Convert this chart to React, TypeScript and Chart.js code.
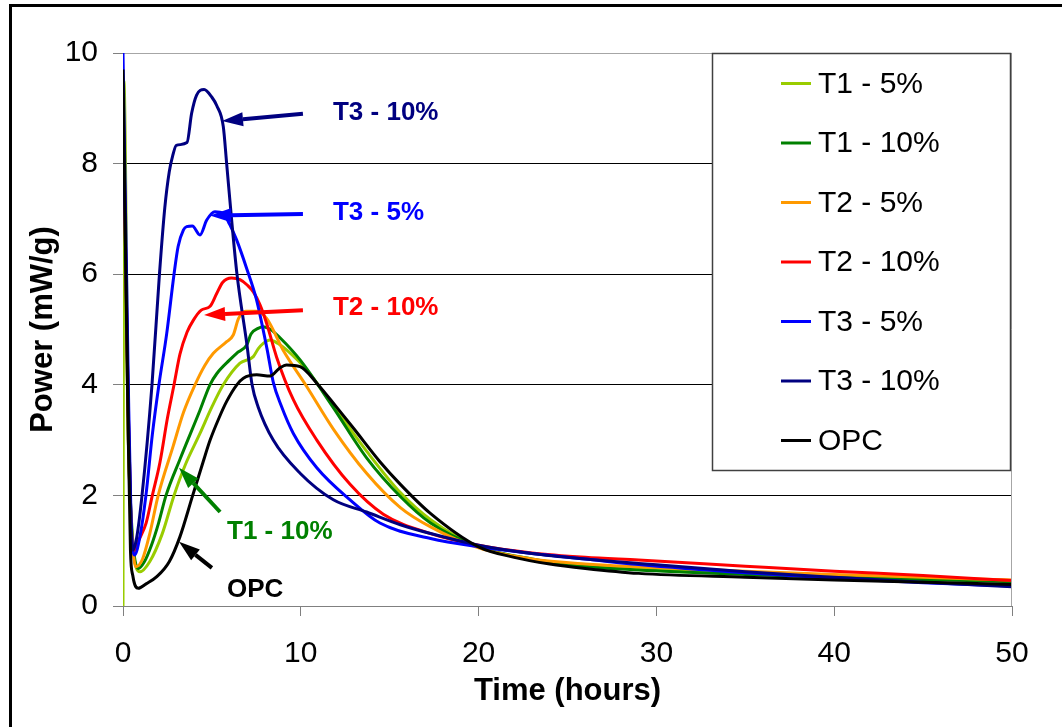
import React, { useEffect, useRef } from "react";
import { Chart, registerables } from "chart.js";

Chart.register(...registerables);

// ---------- data ----------
const seriesNames = ["T1 - 5%", "T1 - 10%", "T2 - 5%", "T2 - 10%", "T3 - 5%", "T3 - 10%", "OPC"];
const seriesColors = ["#99CC00", "#008000", "#FF9900", "#FF0000", "#0000FF", "#000080", "#000000"];

const t1_5_t = [0, 0.05, 0.3, 0.5, 0.96, 1.5, 2.2, 2.87, 3.5, 4.33, 5.0, 5.64, 6.58, 7.33, 7.6, 7.89, 8.27, 8.7, 9.2, 10.33, 11.83, 13.7, 15.6, 17.3, 20, 23, 26, 29, 35, 40, 45, 50];
const t1_5_y = [0, 9.5, 3.2, 1.3, 0.62, 0.8, 1.3, 2.0, 2.55, 3.12, 3.6, 4.0, 4.39, 4.51, 4.65, 4.75, 4.81, 4.75, 4.63, 4.27, 3.62, 2.8, 2.05, 1.56, 1.07, 0.84, 0.73, 0.68, 0.6, 0.54, 0.5, 0.46];

const t1_10_t = [0, 0.3, 0.5, 0.86, 1.2, 1.6, 2.0, 2.42, 3.2, 4.33, 4.89, 5.27, 6.0, 6.39, 6.96, 7.2, 7.6, 7.89, 8.3, 8.83, 9.96, 11.8, 13.7, 15.6, 17.3, 20, 23, 26, 29, 35, 40, 45, 50];
const t1_10_y = [9.0, 3.0, 1.4, 0.68, 0.8, 1.1, 1.5, 2.0, 2.65, 3.54, 4.0, 4.2, 4.45, 4.57, 4.72, 4.92, 5.02, 5.05, 5.0, 4.85, 4.45, 3.6, 2.68, 1.98, 1.5, 1.07, 0.85, 0.72, 0.65, 0.57, 0.52, 0.48, 0.44];

const t2_5_t = [0, 0.3, 0.5, 0.73, 1.1, 1.5, 1.98, 2.83, 3.4, 4.05, 4.6, 5.08, 5.83, 6.2, 6.5, 6.9, 7.5, 8.08, 9.0, 10.33, 11.83, 13.7, 15.6, 17.3, 20, 23, 26, 29, 35, 40, 45, 50];
const t2_5_y = [9.3, 3.0, 1.3, 0.71, 0.85, 1.3, 2.0, 2.9, 3.5, 4.0, 4.35, 4.57, 4.78, 4.9, 5.2, 5.33, 5.33, 5.2, 4.63, 3.97, 3.2, 2.4, 1.78, 1.43, 1.05, 0.85, 0.76, 0.71, 0.63, 0.57, 0.52, 0.47];

const t2_10_t = [0, 0.3, 0.45, 0.58, 0.9, 1.3, 1.65, 2.08, 2.5, 2.87, 3.2, 3.6, 3.96, 4.4, 4.9, 5.27, 5.6, 6.11, 6.58, 7.0, 7.33, 7.7, 8.08, 8.64, 9.58, 10.9, 12.77, 14.64, 17.3, 20, 23, 26, 29, 35, 40, 45, 50];
const t2_10_y = [9.4, 3.5, 1.5, 0.98, 1.2, 1.5, 2.0, 2.6, 3.4, 4.0, 4.55, 4.95, 5.17, 5.35, 5.42, 5.65, 5.85, 5.93, 5.9, 5.8, 5.68, 5.45, 5.11, 4.5, 3.73, 3.0, 2.2, 1.66, 1.31, 1.1, 0.96, 0.88, 0.83, 0.72, 0.63, 0.55, 0.46];

const t3_5_t = [0, 0.3, 0.45, 0.64, 0.95, 1.29, 1.65, 2.02, 2.46, 2.87, 3.1, 3.4, 3.58, 3.9, 4.33, 4.71, 5.17, 5.64, 6.0, 6.39, 6.96, 7.5, 8.1, 8.45, 8.9, 9.58, 10.9, 12.77, 14.45, 17.3, 20, 23, 26, 29, 35, 40, 45, 50];
const t3_5_y = [10, 4.0, 1.6, 0.92, 1.25, 2.0, 3.1, 4.0, 4.93, 6.0, 6.5, 6.8, 6.86, 6.87, 6.71, 6.98, 7.13, 7.1, 6.9, 6.62, 6.1, 5.55, 4.65, 4.05, 3.62, 3.12, 2.5, 1.92, 1.5, 1.22, 1.07, 0.95, 0.85, 0.75, 0.6, 0.5, 0.42, 0.36];

const t3_10_t = [0, 0.3, 0.45, 0.55, 0.75, 1.07, 1.63, 2.05, 2.35, 2.6, 2.8, 3.0, 3.6, 3.86, 4.14, 4.56, 5.0, 5.27, 5.64, 5.83, 6.11, 6.41, 6.96, 7.26, 7.6, 8.45, 9.96, 11.83, 13.7, 15.6, 17.3, 20, 23, 26, 29, 35, 40, 45, 50];
const t3_10_y = [9.2, 3.5, 1.5, 1.01, 1.2, 2.0, 4.0, 6.0, 7.2, 7.85, 8.15, 8.33, 8.38, 8.91, 9.24, 9.34, 9.2, 9.05, 8.67, 8.0, 6.98, 6.0, 4.75, 4.0, 3.6, 3.0, 2.4, 1.92, 1.7, 1.47, 1.31, 1.1, 0.95, 0.85, 0.77, 0.62, 0.52, 0.43, 0.35];

const opc_t = [0, 0.3, 0.42, 0.55, 0.86, 1.3, 1.9, 2.6, 3.2, 3.92, 4.5, 4.9, 5.4, 5.83, 6.4, 6.77, 7.52, 8.27, 8.8, 9.2, 9.96, 10.9, 12.0, 13.0, 14.45, 15.6, 17.27, 20, 22, 24, 26, 29, 35, 40, 45, 50];
const opc_y = [9.7, 3.0, 1.0, 0.55, 0.32, 0.4, 0.53, 0.8, 1.25, 2.0, 2.6, 3.0, 3.4, 3.7, 4.0, 4.12, 4.18, 4.16, 4.3, 4.36, 4.33, 4.03, 3.6, 3.2, 2.61, 2.2, 1.68, 1.07, 0.88, 0.76, 0.68, 0.59, 0.52, 0.47, 0.43, 0.39];

const seriesTimes = [t1_5_t, t1_10_t, t2_5_t, t2_10_t, t3_5_t, t3_10_t, opc_t];
const seriesValues = [t1_5_y, t1_10_y, t2_5_y, t2_10_y, t3_5_y, t3_10_y, opc_y];

const xTicks = [0, 10, 20, 30, 40, 50];
const yTicks = [0, 2, 4, 6, 8, 10];

const xTitle = "Time (hours)";
const yTitle = "Power (mW/g)";

// annotation labels (in data units): text anchor and arrow tail -> tip
const annLabels = ["T3 - 10%", "T3 - 5%", "T2 - 10%", "T1 - 10%", "OPC"];
const annColors = ["#000080", "#0000FF", "#FF0000", "#008000", "#000000"];
const annTextT = [11.81, 11.81, 11.81, 5.85, 5.85];
const annTextY = [8.915, 7.107, 5.39, 1.34, 0.29];
const annFromT = [10.12, 10.12, 10.12, 5.46, 5.0];
const annFromY = [8.9, 7.09, 5.35, 1.7, 0.69];
const annToT = [5.57, 4.89, 4.56, 3.15, 3.15];
const annToY = [8.77, 7.06, 5.26, 2.5, 1.16];

const FONT = "'Liberation Sans', Arial, sans-serif";

const overlayPlugin = {
  id: "overlay",
  afterDatasetsDraw(chart: any) {
    const ctx = chart.ctx as CanvasRenderingContext2D;
    const area = chart.chartArea;
    const xs = chart.scales.x;
    const ys = chart.scales.y;
    ctx.save();

    // right plot border
    ctx.strokeStyle = "#a6a6a6";
    ctx.lineWidth = 1;
    ctx.beginPath();
    ctx.moveTo(Math.round(area.right) - 0.5, area.top);
    ctx.lineTo(Math.round(area.right) - 0.5, area.bottom);
    ctx.stroke();

    // annotations
    for (let i = 0; i < annLabels.length; i++) {
      const color = annColors[i];
      const x1 = xs.getPixelForValue(annFromT[i]);
      const y1 = ys.getPixelForValue(annFromY[i]);
      const x2 = xs.getPixelForValue(annToT[i]);
      const y2 = ys.getPixelForValue(annToY[i]);
      const ang = Math.atan2(y2 - y1, x2 - x1);
      const headLen = 21;
      const headHalf = 7;
      const bx = x2 - headLen * Math.cos(ang);
      const by = y2 - headLen * Math.sin(ang);
      ctx.strokeStyle = color;
      ctx.fillStyle = color;
      ctx.lineWidth = 4;
      ctx.lineCap = "butt";
      ctx.beginPath();
      ctx.moveTo(x1, y1);
      ctx.lineTo(bx, by);
      ctx.stroke();
      ctx.beginPath();
      ctx.moveTo(x2, y2);
      ctx.lineTo(bx + headHalf * Math.sin(ang), by - headHalf * Math.cos(ang));
      ctx.lineTo(bx - headHalf * Math.sin(ang), by + headHalf * Math.cos(ang));
      ctx.closePath();
      ctx.fill();

      ctx.font = `bold 26px ${FONT}`;
      ctx.textAlign = "left";
      ctx.textBaseline = "middle";
      ctx.fillText(annLabels[i], xs.getPixelForValue(annTextT[i]), ys.getPixelForValue(annTextY[i]));
    }

    // legend box
    const lx = area.right - 300;
    const ly = area.top;
    const lw = 299;
    const lh = 418;
    ctx.fillStyle = "#ffffff";
    ctx.fillRect(lx, ly, lw, lh);
    ctx.strokeStyle = "#404040";
    ctx.lineWidth = 1.5;
    ctx.strokeRect(lx + 0.5, ly + 0.5, lw - 1, lh - 1);
    ctx.font = `30px ${FONT}`;
    ctx.textAlign = "left";
    ctx.textBaseline = "middle";
    for (let i = 0; i < seriesNames.length; i++) {
      const cy = ly + 30.5 + i * 59.5;
      ctx.strokeStyle = seriesColors[i];
      ctx.lineWidth = 3;
      ctx.beginPath();
      ctx.moveTo(lx + 69, cy);
      ctx.lineTo(lx + 99, cy);
      ctx.stroke();
      ctx.fillStyle = "#000";
      ctx.fillText(seriesNames[i], lx + 106, cy + 1);
    }
    ctx.restore();
  },
  afterDraw(chart: any) {
    const ctx = chart.ctx as CanvasRenderingContext2D;
    const area = chart.chartArea;
    ctx.save();
    ctx.fillStyle = "#000";
    // outer frame (top and left visible)
    ctx.fillRect(9, 4, 1100, 3);
    ctx.fillRect(9, 4, 3, 800);
    // axis titles
    ctx.font = `bold 31px ${FONT}`;
    ctx.textAlign = "center";
    ctx.textBaseline = "middle";
    ctx.fillText(xTitle, (area.left + area.right) / 2, 691);
    ctx.translate(43, (area.top + area.bottom) / 2);
    ctx.rotate(-Math.PI / 2);
    ctx.fillText(yTitle, 0, 0);
    ctx.restore();
  },
};

export default function App() {
  const canvasRef = useRef<HTMLCanvasElement | null>(null);

  useEffect(() => {
    if (!canvasRef.current) return;
    const datasets = seriesNames.map((name, i) => ({
      label: name,
      data: seriesTimes[i].map((t, j) => ({ x: t, y: seriesValues[i][j] })),
      borderColor: seriesColors[i],
      backgroundColor: seriesColors[i],
      borderWidth: 3,
      pointRadius: 0,
      fill: false,
      cubicInterpolationMode: "monotone" as const,
      order: seriesNames.length - i,
    }));

    const chart = new Chart(canvasRef.current, {
      type: "line",
      data: { datasets },
      options: {
        responsive: false,
        animation: false,
        layout: { padding: { left: 0, top: 53, right: 50, bottom: 0 } },
        plugins: { legend: { display: false }, tooltip: { enabled: false } },
        scales: {
          x: {
            type: "linear",
            min: 0,
            max: 50,
            afterFit: (s: any) => {
              s.height = 121;
            },
            afterBuildTicks: (s: any) => {
              s.ticks = xTicks.map((v) => ({ value: v }));
            },
            ticks: {
              color: "#000",
              font: { family: FONT, size: 30 },
              padding: 20,
              maxRotation: 0,
              autoSkip: false,
            },
            grid: { drawOnChartArea: false, drawTicks: true, tickLength: 10, tickColor: "#808080", color: "#808080" },
            border: { color: "#808080", width: 1 },
          },
          y: {
            min: 0,
            max: 10,
            afterFit: (s: any) => {
              s.width = 123;
            },
            afterBuildTicks: (s: any) => {
              s.ticks = yTicks.map((v) => ({ value: v }));
            },
            ticks: {
              color: "#000",
              font: { family: FONT, size: 30 },
              padding: 15,
              autoSkip: false,
            },
            grid: {
              color: (c: any) => (c.tick && c.tick.value === 10 ? "#a6a6a6" : "#000000"),
              lineWidth: 1,
              tickLength: 10,
              tickColor: "#808080",
            },
            border: { color: "#808080", width: 1 },
          },
        },
      },
      plugins: [overlayPlugin],
    } as any);
    return () => chart.destroy();
  }, []);

  return (
    <div style={{ position: "fixed", left: 0, top: 0, width: 1062, height: 727, background: "#fff" }}>
      <canvas ref={canvasRef} width={1062} height={727} style={{ display: "block" }} />
    </div>
  );
}
